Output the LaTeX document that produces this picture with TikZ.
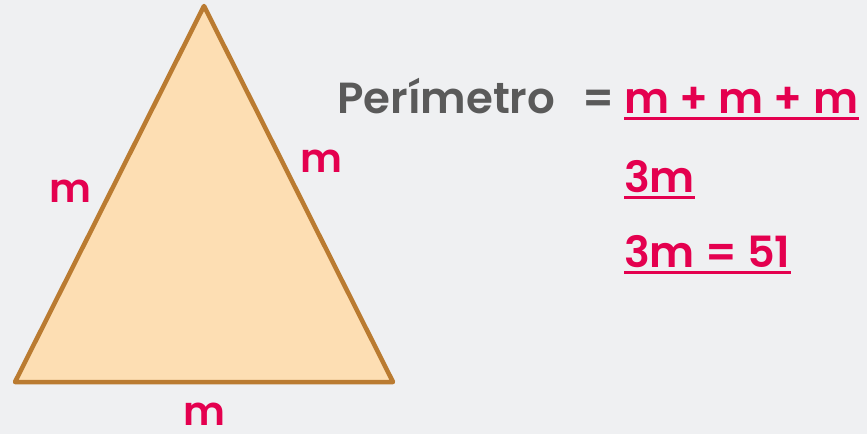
\documentclass[tikz,border=0pt]{standalone}
\usepackage{fontspec}
\setmainfont{Poppins}[BoldFont={Poppins SemiBold}]
\usetikzlibrary{calc}
\definecolor{bg}{HTML}{EFF0F2}
\definecolor{edge}{HTML}{BA7B31}
\definecolor{fillc}{HTML}{FDDEB3}
\definecolor{pink}{HTML}{E4004F}
\definecolor{greytxt}{HTML}{5A5A5A}
\begin{document}
\begin{tikzpicture}[x=1pt,y=-1pt,
  lbl/.style={text=pink,font=\fontsize{40}{40}\selectfont\bfseries,inner sep=0pt},
  eq/.style={text=pink,font=\fontsize{43}{43}\selectfont\bfseries,inner sep=0pt,anchor=base west},
  gt/.style={text=greytxt,font=\fontsize{43.5}{43}\selectfont\bfseries,inner sep=0pt,anchor=base west},
  ul/.style={draw=pink,line width=3pt}]
\fill[bg] (0,0) rectangle (867,434);
\useasboundingbox (0,0) rectangle (867,434);
\coordinate (A) at (204,6);
\coordinate (B) at (15,382);
\coordinate (C) at (393,382);
\filldraw[fill=fillc,draw=edge,line width=4.5pt,line join=round] (A) -- (B) -- (C) -- cycle;
\node[lbl] (lm) at (70,191) {m};
\node[lbl] (rm) at (321,161) {m};
\node[lbl] (bm) at (204,414) {m};
\node[gt] (per) at (337,113) {Perímetro};
\node[gt] (eqs) at (582,113) {=};
\node[eq] (e1) at (624,113) {m + m + m};
\node[eq] (e2) at (624,192) {3m};
\node[eq] (e3) at (624,267) {3m = 51};
\draw[ul] ($(e1.base west)+(0,5)$) -- ($(e1.base east)+(0,5)$);
\draw[ul] ($(e2.base west)+(0,5)$) -- ($(e2.base east)+(0,5)$);
\draw[ul] ($(e3.base west)+(0,5)$) -- ($(e3.base east)+(0,5)$);
\end{tikzpicture}
\end{document}
